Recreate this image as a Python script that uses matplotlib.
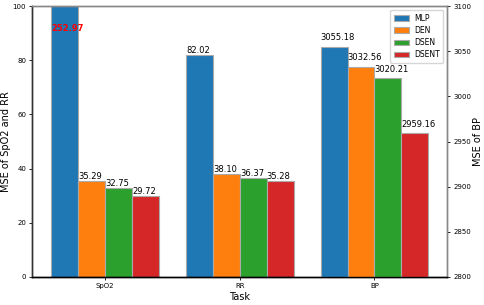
import matplotlib
matplotlib.use('Agg')
import matplotlib.pyplot as plt
import numpy as np

# data
tasks = ['SpO2', 'RR', 'BP']
models = ['MLP', 'DEN', 'DSEN', 'DSENT']
spo2 = [252.97, 35.29, 32.75, 29.72]
rr = [82.02, 38.10, 36.37, 35.28]
bp = [3055.18, 3032.56, 3020.21, 2959.16]
colors = ['#1f77b4', '#ff7f0e', '#2ca02c', '#d62728']

fig, ax = plt.subplots(figsize=(4.84, 3.05), dpi=100)
fig.subplots_adjust(left=0.067, right=0.924, top=0.98, bottom=0.092)
ax2 = ax.twinx()

w = 0.2
x = np.arange(len(tasks))
handles = []
for j, m in enumerate(models):
    pos = x + (j - 1.5) * w
    # SpO2 and RR on the left axis
    b = ax.bar(pos[:2], [spo2[j], rr[j]], w, color=colors[j], edgecolor='#aaaaaa', linewidth=0.8, label=m)
    # BP on the right axis
    ax2.bar(pos[2], bp[j] - 2800, w, bottom=2800, color=colors[j], edgecolor='#aaaaaa', linewidth=0.8)
    handles.append(b)
    for k, v in enumerate([spo2[j], rr[j]]):
        if v > 100:
            ax.text(pos[k] - w / 2, 90, '%.2f' % v, color='red', fontweight='bold', fontsize=6, ha='left', va='bottom')
        else:
            ax.text(pos[k] - w / 2, v, '%.2f' % v, fontsize=6, ha='left', va='bottom')
    ax2.text(pos[2] - w / 2, bp[j] + 5, '%.2f' % bp[j], fontsize=6, ha='left', va='bottom')

ax.set_xlim(-0.54, 2.54)
ax.set_ylim(0, 100)
ax2.set_ylim(2800, 3100)
ax.set_xticks(x)
ax.set_xticklabels(tasks)
ax.set_yticks([0, 20, 40, 60, 80, 100])
ax2.set_yticks([2800, 2850, 2900, 2950, 3000, 3050, 3100])
ax.tick_params(labelsize=5, length=2.5, width=0.6, pad=2)
ax2.tick_params(labelsize=5, length=2.5, width=0.6, pad=2)
ax.set_xlabel('Task', fontsize=7, labelpad=2)
ax.set_ylabel('MSE of SpO2 and RR', fontsize=7, labelpad=1)
ax2.set_ylabel('MSE of BP', fontsize=7, labelpad=1)

for a in (ax, ax2):
    a.spines['top'].set_color('#888888')
    a.spines['right'].set_color('#888888')
    a.spines['left'].set_color('#333333')
    a.spines['bottom'].set_color('black')
    for s in a.spines.values():
        s.set_linewidth(1.0)

ax2.legend(handles, models, loc='upper right', fontsize=5.5, handlelength=2.0,
           borderpad=0.5, labelspacing=0.4, handletextpad=0.6)

fig.savefig('out.png', dpi=100)
